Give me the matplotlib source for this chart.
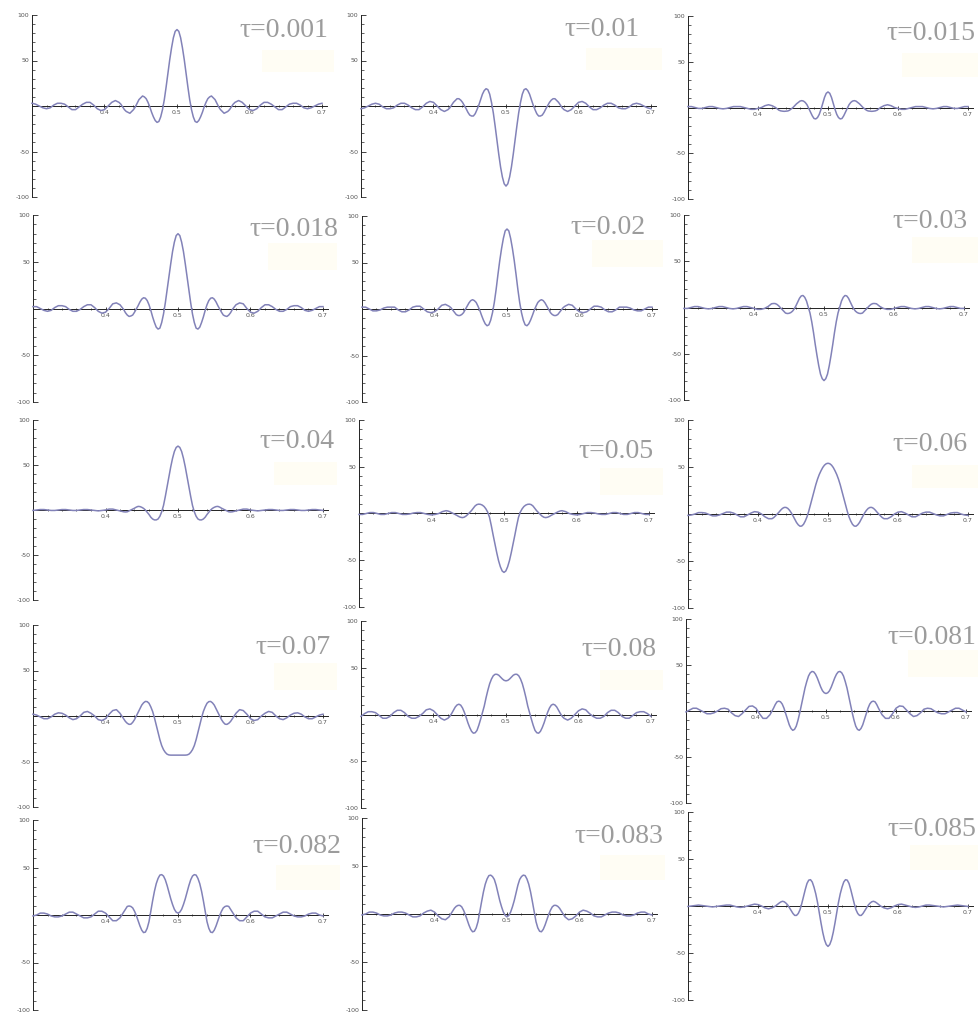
import numpy as np
import matplotlib
matplotlib.use("Agg")
import matplotlib.pyplot as plt
from matplotlib.patches import Rectangle
from matplotlib.ticker import MultipleLocator, FixedLocator

# ---------------- data ----------------
# sample positions: 0.300-0.415 every 0.005, 0.420-0.580 every 0.0025, 0.585-0.700 every 0.005
x_pos = np.concatenate([np.linspace(0.300, 0.415, 24),
                        np.linspace(0.420, 0.580, 65),
                        np.linspace(0.585, 0.700, 24)])

tau_labels = ["0.001", "0.01", "0.015", "0.018", "0.02", "0.03", "0.04", "0.05",
              "0.06", "0.07", "0.08", "0.081", "0.082", "0.083", "0.085"]

y_t0001 = ([3, 2, 0, -2, -3, -2, 1, 3, 3, 2, -1, -4, -4, -1, 2, 4, 4, 1, -3, -5, -4, 0, 4, 6] +
           [4, 2, -1, -4, -6, -7, -8, -6, -4, -1, 3, 7, 9, 11, 10, 8, 4, -1, -7, -12, -16, -18, -17, -12, -4, 7, 21, 36, 51, 64, 75, 82] +
           [84] +
           [82, 75, 64, 51, 36, 21, 7, -4, -12, -17, -18, -16, -12, -7, -1, 4, 8, 10, 11, 9, 7, 3, -1, -4, -6, -8, -7, -6, -4, -1, 2, 4] +
           [6, 4, 0, -4, -5, -3, 1, 4, 4, 2, -1, -4, -4, -1, 2, 3, 3, 1, -2, -3, -2, 0, 2, 3])
y_t001 = ([-3, -2, 0, 2, 3, 2, -1, -3, -3, -2, 1, 3, 3, 1, -2, -4, -4, -1, 3, 5, 4, 0, -4, -6] +
          [-4, -2, 1, 4, 6, 8, 8, 6.5, 4, 0.5, -3, -7, -10, -11, -11, -8.5, -4, 1, 7, 13, 17, 19, 18, 13, 4, -7.5, -22, -37.5, -53, -67, -78, -85.5] +
          [-88] +
          [-85.5, -78, -67, -53, -37.5, -22, -7.5, 4, 13, 18, 19, 17, 13, 7, 1, -4, -8.5, -11, -11, -10, -7, -3, 0.5, 4, 6.5, 8, 8, 6, 4, 1, -2, -4] +
          [-6, -4, 0, 4, 5, 3, -1, -4, -4, -2, 1, 3, 3, 1, -2, -3, -3, -1, 2, 3, 2, 0, -2, -3])
y_t0015 = ([1, 1, 0, -1, -1, 0, 1, 1, 0, -1, -1.5, -1, 0, 1, 1, 1, 0, -1, -2, -2, -1, 0, 2, 3] +
           [2, 1, 0, -1.5, -3, -3.7, -4, -4.2, -4, -3.8, -3, -1.5, 0, 2, 4, 5.5, 7, 7.5, 7, 5.5, 3, -1, -5, -9, -12, -12.5, -11, -7.5, -2, 4.5, 11, 15.5] +
           [17] +
           [15.5, 11, 4.5, -2, -7.5, -11, -12.5, -12, -9, -5, -1, 3, 5.5, 7, 7.5, 7, 5.5, 4, 2, 0, -1.5, -3, -3.8, -4, -4.2, -4, -3.7, -3, -1.5, 0, 1, 2] +
           [3, 2, 0, -1, -2, -2, -1, 0, 1, 1, 1, 0, -1, -1.5, -1, 0, 1, 1, 0, -1, -1, 0, 1, 1])
y_t0018 = ([2, 2, 0, -2, -3, -2, 1, 3, 3, 2, -1, -3, -3, -1, 2, 4, 4, 1, -3, -5, -4, 0, 5, 6] +
           [4, 1.5, -1, -4.5, -7, -8.5, -8, -7, -4, -0.5, 3, 7, 10, 11.5, 11, 8.5, 4, -2, -9, -15, -20, -22, -21, -15, -6, 6, 20, 34, 48, 61, 71, 78] +
           [80] +
           [78, 71, 61, 48, 34, 20, 6, -6, -15, -21, -22, -20, -15, -9, -2, 4, 8.5, 11, 11.5, 10, 7, 3, -0.5, -4, -7, -8, -8.5, -7, -4.5, -1, 1.5, 4] +
           [6, 5, 0, -4, -5, -3, 1, 4, 4, 2, -1, -3, -3, -1, 2, 3, 3, 1, -2, -3, -2, 0, 2, 2])
y_t002 = ([2, 2, 0, -2, -2, -1, 1, 2, 2, 2, -1, -3, -3, -1, 2, 3, 3, 0, -3, -4, -3, 0, 4, 5] +
          [3, 1.5, -1, -3.5, -6, -7, -7, -6, -4, -0.5, 3, 6.5, 9, 10, 9, 7, 3, -1.5, -7, -12, -16, -18, -17, -12, -4, 7, 21, 37, 52, 65, 76, 84] +
          [86] +
          [84, 76, 65, 52, 37, 21, 7, -4, -12, -17, -18, -16, -12, -7, -1.5, 3, 7, 9, 10, 9, 6.5, 3, -0.5, -4, -6, -7, -7, -6, -3.5, -1, 1.5, 3] +
          [5, 4, 0, -3, -4, -3, 0, 3, 3, 2, -1, -3, -3, -1, 2, 2, 2, 1, -1, -2, -2, 0, 2, 2])
y_t003 = ([-1, -1, 0, 1, 1, 0, -1, -1.5, -1, 0, 1, 1, 0, -1, -1.5, -1, 0, 1, 1, 0, -1, -2, -2, -1] +
          [1, 2.5, 4, 4.3, 4.3, 3.5, 2, 0, -2, -4, -6, -6.5, -6.3, -5.5, -4, -1.5, 2, 6, 10, 12.5, 13, 11, 7, 0.5, -6, -15.5, -27, -40, -52, -63, -72, -77] +
          [-79] +
          [-77, -72, -63, -52, -40, -27, -15.5, -6, 0.5, 7, 11, 13, 12.5, 10, 6, 2, -1.5, -4, -5.5, -6.3, -6.5, -6, -4, -2, 0, 2, 3.5, 4.3, 4.3, 4, 2.5, 1] +
          [-1, -2, -2, -1, 0, 1, 1, 0, -1, -1.5, -1, 0, 1, 1, 0, -1, -1.5, -1, 0, 1, 1, 0, -1, -1])
y_t004 = ([-0.5, 0, 0.5, 0.5, 0, -0.5, -0.5, 0, 0.5, 0.5, 0, -0.5, -0.5, 0, 0.5, 0.5, 0, -0.5, -1, -0.5, 0, 1, 1, 0] +
          [-1, -1.5, -2, -2.2, -2, -1, 0, 1, 2, 3.2, 4, 3.8, 3, 1.8, 0, -2.5, -5, -8, -10, -11, -11, -10, -7, -2, 5, 15, 26, 37, 48, 57.5, 65, 69.5] +
          [71] +
          [69.5, 65, 57.5, 48, 37, 26, 15, 5, -2, -7, -10, -11, -11, -10, -8, -5, -2.5, 0, 1.8, 3, 3.8, 4, 3.2, 2, 1, 0, -1, -2, -2.2, -2, -1.5, -1] +
          [0, 1, 1, 0, -0.5, -1, -0.5, 0, 0.5, 0.5, 0, -0.5, -0.5, 0, 0.5, 0.5, 0, -0.5, -0.5, 0, 0.5, 0.5, 0, -0.5])
y_t005 = ([-1, -1, 0, 1, 1, 0, -1, -1, 0, 1, 1, 0, -1, -1, -0.5, 0.5, 1, 1, 0, -1, -1.5, -1, 0, 2] +
          [3, 2.7, 2, 1, 0, -1, -2, -3.2, -4, -4.4, -4, -2.8, -1, 1, 3, 5.5, 8, 9.5, 10, 9.8, 9, 7.5, 5, 1.5, -4, -13, -23, -32.5, -42, -50.5, -57, -61.5] +
          [-63] +
          [-61.5, -57, -50.5, -42, -32.5, -23, -13, -4, 1.5, 5, 7.5, 9, 9.8, 10, 9.5, 8, 5.5, 3, 1, -1, -2.8, -4, -4.4, -4, -3.2, -2, -1, 0, 1, 2, 2.7, 3] +
          [2, 0, -1, -1.5, -1, 0, 1, 1, 0.5, -0.5, -1, -1, 0, 1, 1, 0, -1, -1, 0, 1, 1, 0, -1, -1])
y_t006 = ([-1.5, -1, 0, 1.5, 1.5, 1, -0.5, -2, -2, -1, 0.5, 2, 2, 1, -1, -3, -3, -1, 1, 2.5, 2, 0, -3, -5] +
          [-5, -3.8, -2, 0, 2, 4.2, 6, 7, 7, 6, 4, 1.3, -2, -5.5, -9, -11.5, -13, -12.8, -11, -7.5, -3, 3, 10, 17, 24, 31, 37, 42, 46, 49.5, 52, 53.5] +
          [54] +
          [53.5, 52, 49.5, 46, 42, 37, 31, 24, 17, 10, 3, -3, -7.5, -11, -12.8, -13, -11.5, -9, -5.5, -2, 1.3, 4, 6, 7, 7, 6, 4.2, 2, 0, -2, -3.8, -5] +
          [-5, -3, 0, 2, 2.5, 1, -1, -3, -3, -1, 1, 2, 2, 0.5, -1, -2, -2, -0.5, 1, 1.5, 1.5, 0, -1, -1.5])
y_t007 = ([2, 1, -1, -3, -3, -1, 2, 3.5, 3, 1, -2, -4, -3, 0, 4, 5, 3, 0, -4, -5, -3, 2, 6, 7] +
          [3, 0, -3, -6, -8, -9.2, -9, -7, -4, 0, 4, 8, 12, 14.5, 16, 15.8, 14, 10, 5, -2, -10, -18, -26, -32.5, -37, -40, -42, -42.8, -43, -43, -43, -43] +
          [-43] +
          [-43, -43, -43, -43, -42.8, -42, -40, -37, -32.5, -26, -18, -10, -2, 5, 10, 14, 15.8, 16, 14.5, 12, 8, 4, 0, -4, -7, -9, -9.2, -8, -6, -3, 0, 3] +
          [7, 6, 2, -3, -5, -4, 0, 3, 5, 4, 0, -3, -4, -2, 1, 3, 3.5, 2, -1, -3, -3, -1, 1, 2])
y_t008 = ([-2, 1, 3, 3, 2, -1, -4, -4, -2, 2, 4.5, 4.5, 2, -2, -4, -4, -2, 1, 5, 6, 4, 0, -4, -6] +
          [-4, -2, 1, 4.5, 8, 10.2, 11, 10, 7, 2.5, -3, -9, -14, -18, -20, -19.5, -17, -11.5, -5, 2, 9, 18, 26, 33, 38, 41.5, 43, 43, 42, 40, 38, 36.5] +
          [36] +
          [36.5, 38, 40, 42, 43, 43, 41.5, 38, 33, 26, 18, 9, 2, -5, -11.5, -17, -19.5, -20, -18, -14, -9, -3, 2.5, 7, 10, 11, 10.2, 8, 4.5, 1, -2, -4] +
          [-6, -4, 0, 4, 6, 5, 1, -2, -4, -4, -2, 2, 4.5, 4.5, 2, -2, -4, -4, -1, 2, 3, 3, 1, -2])
y_t0081 = ([-1, 1, 3, 3, 1, -1, -3, -3, -2, 0, 2.5, 3, 2, -2, -5, -6, -3, 1, 5, 5.5, 3, -3, -8, -8] +
           [-4, -0.5, 3, 7, 10, 10.7, 10, 7.5, 3, -3, -9, -15, -19, -21, -20, -16.5, -10, -2, 7, 16, 25, 32, 38, 41.5, 43, 42.5, 40, 36, 31, 26, 22, 19.8] +
           [19] +
           [19.8, 22, 26, 31, 36, 40, 42.5, 43, 41.5, 38, 32, 25, 16, 7, -2, -10, -16.5, -20, -21, -19, -15, -9, -3, 3, 7.5, 10, 10.7, 10, 7, 3, -0.5, -4] +
           [-8, -8, -3, 3, 5.5, 5, 1, -3, -6, -5, -2, 2, 3, 2.5, 0, -2, -3, -3, -1, 1, 3, 3, 1, -1])
y_t0082 = ([-1, 0, 2, 2, 1, -1, -2, -2, -1, 1, 3, 3, 1, -1, -3, -3, -2, 1, 4, 4, 2, -2, -6, -6] +
           [-3, 0, 3, 6, 9, 9.5, 9, 7.5, 4, -0.5, -6, -11.5, -16, -18.5, -18, -14, -7, 4, 15, 25, 33, 38.5, 42, 42.5, 41, 37, 31, 24, 17, 11, 6, 3] +
           [2] +
           [3, 6, 11, 17, 24, 31, 37, 41, 42.5, 42, 38.5, 33, 25, 15, 4, -7, -14, -18, -18.5, -16, -11.5, -6, -0.5, 4, 7.5, 9, 9.5, 9, 6, 3, 0, -3] +
           [-6, -6, -2, 2, 4, 4, 1, -2, -3, -3, -1, 1, 3, 3, 1, -1, -2, -2, -1, 1, 2, 2, 0, -1])
y_t0083 = ([-1, 0, 2, 2, 1, -1, -2, -2, -1, 1, 2, 2, 1, -1, -3, -3, -2, 1, 3, 4, 2, -2, -5, -6] +
           [-3, 0, 3, 6, 8, 9, 9, 7.5, 4, -0.5, -6, -11.5, -16, -18.5, -18, -14.5, -8, 2.5, 13, 23, 31, 36.5, 40, 40.5, 39, 36, 30, 22, 14, 7.5, 2, -1.5] +
           [-3] +
           [-1.5, 2, 7.5, 14, 22, 30, 36, 39, 40.5, 40, 36.5, 31, 23, 13, 2.5, -8, -14.5, -18, -18.5, -16, -11.5, -6, -0.5, 4, 7.5, 9, 9, 8, 6, 3, 0, -3] +
           [-6, -5, -2, 2, 4, 3, 1, -2, -3, -3, -1, 1, 2, 2, 1, -1, -2, -2, -1, 1, 2, 2, 0, -1])
y_t0085 = ([-0.5, 0, 0.5, 1, 0.5, 0, -0.5, -1, -0.5, 0, 0.5, 1, 1, 0, -1, -1.5, -1, 0, 1, 2, 1.5, 0, -2, -3] +
           [-2, -1, 0, 1.5, 3, 4.3, 5, 4.5, 3, 1, -2, -5, -8, -10, -10, -8, -4, 2.5, 10, 17.5, 24, 27.5, 28, 25.5, 20, 13, 4, -7, -18, -28, -36, -41] +
           [-43] +
           [-41, -36, -28, -18, -7, 4, 13, 20, 25.5, 28, 27.5, 24, 17.5, 10, 2.5, -4, -8, -10, -10, -8, -5, -2, 1, 3, 4.5, 5, 4.3, 3, 1.5, 0, -1, -2] +
           [-3, -2, 0, 1.5, 2, 1, 0, -1, -1.5, -1, 0, 1, 1, 0.5, 0, -0.5, -1, -0.5, 0, 0.5, 1, 0.5, 0, -0.5])

series = [y_t0001, y_t001, y_t0015, y_t0018, y_t002, y_t003, y_t004, y_t005,
          y_t006, y_t007, y_t008, y_t0081, y_t0082, y_t0083, y_t0085]

x_ticks = [0.4, 0.5, 0.6, 0.7]
x_tick_labels = ["0.4", "0.5", "0.6", "0.7"]
y_ticks = [-100, -50, 50, 100]
y_tick_labels = ["-100", "-50", "50", "100"]

# ---------------- layout (pixels) ----------------
W, H = 979, 1014
# left edge of y axis, pixel row of +100, height of -100..100 span, pixels per x unit
axes_px = [(32, 15, 182, 725), (361, 15, 182, 725), (688, 16, 183, 700),
           (33, 215, 187, 725), (362, 216, 186, 725), (684, 215, 185, 700),
           (33, 420, 180, 725), (359, 420, 187, 725), (688, 420, 188, 700),
           (33, 625, 182, 725), (361, 621, 187, 725), (686, 619, 184, 700),
           (33, 820, 190, 725), (362, 818, 192, 725), (688, 812, 188, 700)]
# right end and baseline of the tau label
label_px = [(328, 37), (640, 36), (975, 40),
            (338, 236), (646, 234), (968, 228),
            (334, 448), (654, 458), (968, 451),
            (331, 654), (656, 656), (976, 644),
            (341, 853), (663, 843), (976, 836)]
# very faint yellow highlight patches (x0, y0, x1, y1)
glow_px = [(262, 50, 334, 72), (586, 48, 662, 70), (902, 53, 979, 77),
           (268, 243, 337, 270), (592, 240, 663, 267), (912, 237, 979, 263),
           (274, 462, 337, 485), (600, 468, 663, 495), (912, 465, 979, 488),
           (274, 663, 337, 690), (600, 670, 663, 690), (908, 650, 979, 677),
           (276, 865, 340, 890), (600, 855, 665, 880), (910, 845, 979, 870)]

XMIN, XMAX = 0.30, 0.707
curve_color = "#8282b8"
label_color = "#9c9c9c"

fig = plt.figure(figsize=(W / 100, H / 100), dpi=100)
fig.patch.set_facecolor("white")

for (gx0, gy0, gx1, gy1) in glow_px:
    fig.patches.append(Rectangle((gx0 / W, 1 - gy1 / H), (gx1 - gx0) / W, (gy1 - gy0) / H,
                                 transform=fig.transFigure, facecolor="#fffdf4",
                                 edgecolor="none", zorder=0))

for k, (yv, tau) in enumerate(zip(series, tau_labels)):
    left, top, hgt, pxx = axes_px[k]
    wid = (XMAX - XMIN) * pxx
    ax = fig.add_axes([left / W, 1 - (top + hgt) / H, wid / W, hgt / H])
    ax.set_facecolor("none")
    ax.set_xlim(XMIN, XMAX)
    ax.set_ylim(-100, 100)
    ax.plot(x_pos, yv, color=curve_color, lw=1.1, clip_on=False, zorder=3,
            solid_joinstyle="round", antialiased=True)

    for s in ("top", "right"):
        ax.spines[s].set_visible(False)
    ax.spines["left"].set_position(("data", XMIN))
    ax.spines["bottom"].set_position(("data", 0))
    for s in ("left", "bottom"):
        ax.spines[s].set_linewidth(0.7)
        ax.spines[s].set_color("#222222")
        ax.spines[s].set_zorder(2)

    ax.xaxis.set_major_locator(FixedLocator(x_ticks))
    ax.set_xticklabels(x_tick_labels)
    ax.xaxis.set_minor_locator(FixedLocator([0.32, 0.34, 0.36, 0.38, 0.42, 0.44, 0.46, 0.48,
                                             0.52, 0.54, 0.56, 0.58, 0.62, 0.64, 0.66, 0.68]))
    ax.yaxis.set_major_locator(FixedLocator(y_ticks))
    ax.set_yticklabels(y_tick_labels)
    ax.yaxis.set_minor_locator(MultipleLocator(10))

    ax.tick_params(axis="x", which="major", direction="inout", length=3, width=0.6,
                   labelsize=4.5, pad=1.5, colors="#222222", labelcolor="#555555")
    ax.tick_params(axis="x", which="minor", direction="inout", length=1.8, width=0.5, colors="#222222")
    ax.tick_params(axis="y", which="major", direction="in", length=3.5, width=0.6,
                   labelsize=4.5, pad=2, colors="#222222", labelcolor="#555555")
    ax.tick_params(axis="y", which="minor", direction="in", length=2, width=0.5, colors="#222222")

    rx, by = label_px[k]
    fig.text(rx / W, 1 - by / H, "\u03c4=" + tau, ha="right", va="baseline",
             fontsize=20, color=label_color, family=["Liberation Serif", "DejaVu Serif"])

fig.savefig("out.png", dpi=100, facecolor="white")
